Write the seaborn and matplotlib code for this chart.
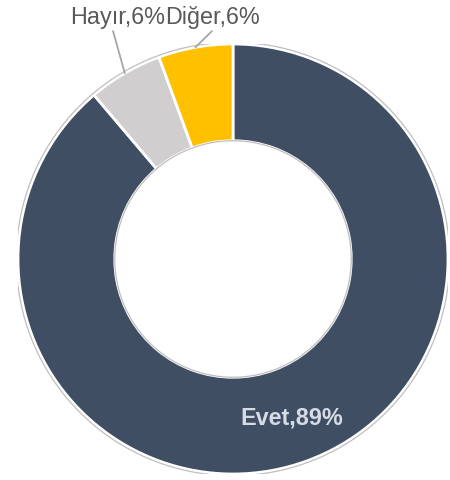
import numpy as np
import matplotlib
matplotlib.use("Agg")
import matplotlib.pyplot as plt
import seaborn as sns

categories = ["Evet", "Hayır", "Diğer"]
values = [88.9, 5.6, 5.6]
colors = ["#3F4E63", "#D0CECE", "#FFC000"]

sns.set_theme(style="white")
plt.rcParams['font.family'] = ['Liberation Sans', 'DejaVu Sans']

fig = plt.figure(figsize=(4.5, 4.81), dpi=100)
cx, cy, R = 233, 260, 215
W, H = 450, 481
ax = fig.add_axes([(cx - R) / W, (H - cy - R) / H, 2 * R / W, 2 * R / H])

wedges, _ = ax.pie(values, colors=colors, startangle=90, counterclock=False,
                   radius=1.0,
                   wedgeprops=dict(width=0.45, edgecolor="white", linewidth=2))

# thin grey outlines
t = np.linspace(0, 2 * np.pi, 400)
for r in (1.008, 0.55):
    ax.plot(r * np.cos(t), r * np.sin(t), color="#BFBFBF", lw=0.9, zorder=5)

labels = [f"{c},{v:.0f}%" for c, v in zip(categories, values)]

# Evet label inside
ax.text(0.274, -0.735, labels[0], ha="center", va="center", fontsize=16.8,
        fontweight="bold", color="#D6DCE5")

# outside labels with leaders
ax.text(-0.318, 1.13, labels[1], ha="right", va="center", fontsize=16.8, color="#595959")
ax.text(-0.318, 1.13, labels[2], ha="left", va="center", fontsize=16.8, color="#595959")

starts = {1: (-0.558, 1.06), 2: (-0.098, 1.06)}
for i, (sx, sy) in starts.items():
    w = wedges[i]
    ang = np.deg2rad((w.theta1 + w.theta2) / 2)
    ex, ey = np.cos(ang), np.sin(ang)
    ax.plot([sx, ex], [sy, ey], color="#A6A6A6", lw=1.3, zorder=6, clip_on=False)

ax.set_xlim(-1, 1)
ax.set_ylim(-1, 1)
ax.set_aspect("equal")
ax.axis("off")

fig.savefig("out.png", dpi=100)
